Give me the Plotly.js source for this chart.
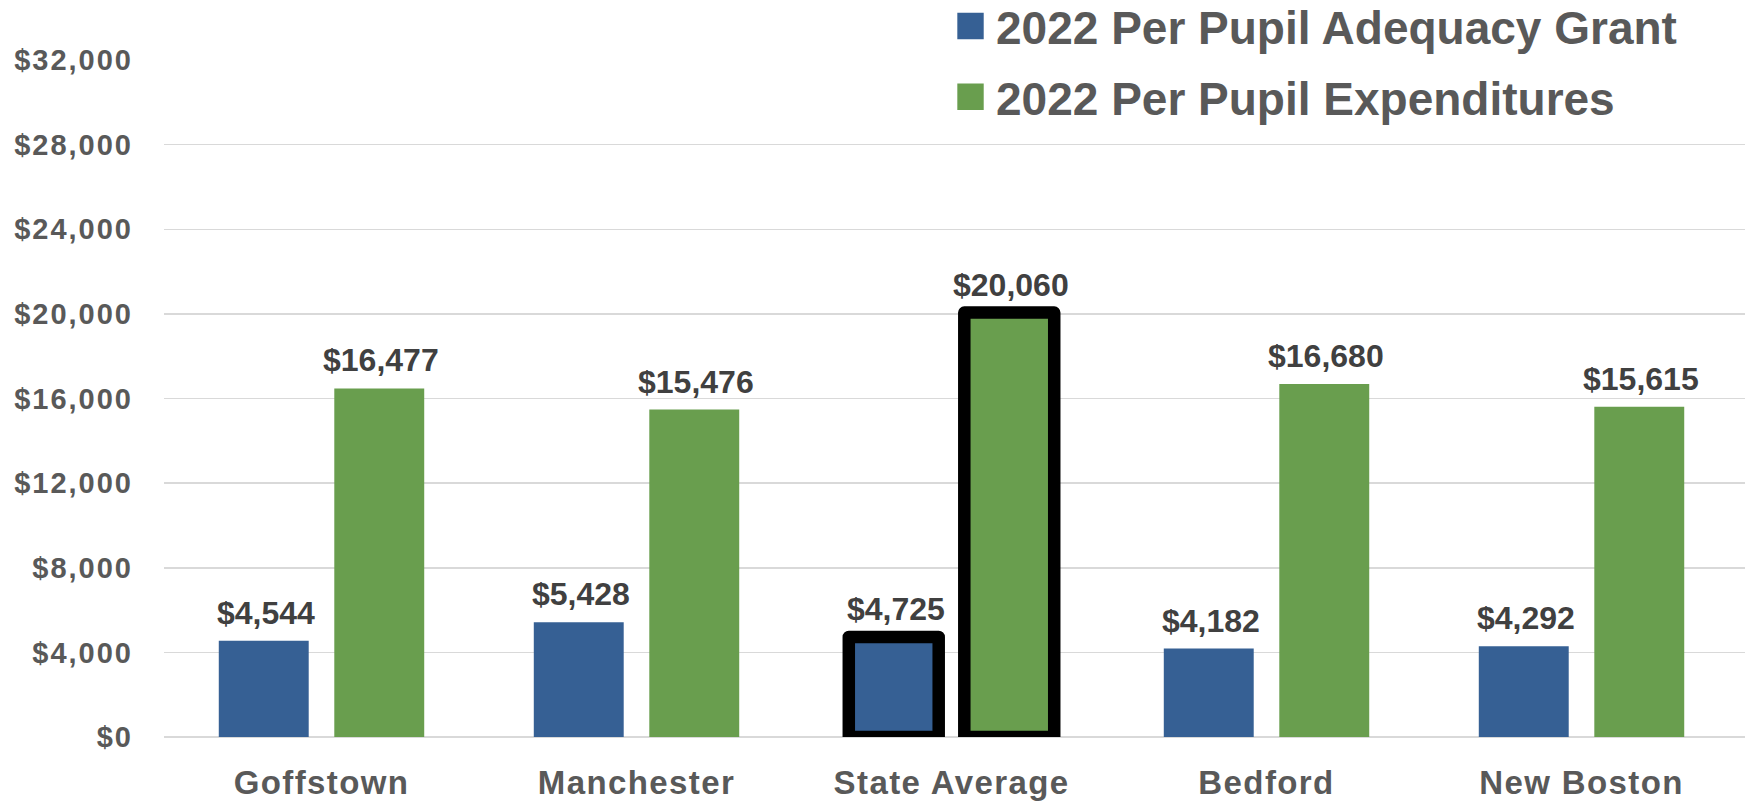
<!DOCTYPE html>
<html>
<head>
<meta charset="utf-8">
<script src="https://cdn.plot.ly/plotly-3.0.1.min.js"></script>
<style>
  html, body { margin: 0; padding: 0; background: #ffffff; }
  #chart { width: 1745px; height: 801px; }
  .xtick text { letter-spacing: 1.4px; }
  .ytick text { letter-spacing: 2px; }
  .trace.bars .point path { stroke-linejoin: round; }
</style>
</head>
<body>
<div id="chart"></div>
<script>
// ---- data ----
const categories = ['Goffstown', 'Manchester', 'State Average', 'Bedford', 'New Boston'];
const grantValues = [4544, 5428, 4725, 4182, 4292];
const expenditureValues = [16477, 15476, 20060, 16680, 15615];
const seriesNames = ['2022 Per Pupil Adequacy Grant', '2022 Per Pupil Expenditures'];
const yTickValues = [0, 4000, 8000, 12000, 16000, 20000, 24000, 28000, 32000];
const highlightCategory = 'State Average';

// ---- styles ----
const FONT = 'Liberation Sans, Arial, sans-serif';
const seriesColors = ['#366094', '#699E4E'];
const outlineWidths = categories.map(c => (c === highlightCategory ? 12.5 : 0));

const seriesValues = [grantValues, expenditureValues];

const traces = seriesValues.map((vals, s) => ({
  type: 'bar',
  name: seriesNames[s],
  legendgroup: 'g' + s,
  x: categories,
  y: vals,
  marker: {
    color: seriesColors[s],
    line: { color: '#000000', width: outlineWidths }
  },
  textposition: 'none',
  hoverinfo: 'none',
  cliponaxis: false
}));

const fmt = v => '$' + v.toLocaleString('en-US');
const annotations = [];
seriesValues.forEach((vals, s) => {
  vals.forEach((v, i) => {
    annotations.push({
      x: categories[i], y: v, xref: 'x', yref: 'y',
      text: fmt(v), showarrow: false,
      xanchor: 'center', yanchor: 'bottom',
      xshift: (s === 0 ? -1 : 1) * 57.75 + 2,
      yshift: 8,
      font: { family: FONT, size: 32, color: '#404040', weight: 'bold' }
    });
  });
});

const layout = {
  width: 1745, height: 801,
  margin: { l: 164, r: 0, t: 60, b: 64, pad: 0, autoexpand: false },
  paper_bgcolor: '#ffffff', plot_bgcolor: '#ffffff',
  barmode: 'group',
  bargap: 0.2666,
  bargroupgap: 0.2215,
  showlegend: true,
  legend: {
    x: 0.494, y: 1.104, xanchor: 'left', yanchor: 'top',
    xref: 'paper', yref: 'paper',
    orientation: 'v',
    traceorder: 'grouped',
    tracegroupgap: 8,
    itemwidth: 41,
    bgcolor: 'rgba(0,0,0,0)',
    borderwidth: 0,
    font: { family: FONT, size: 46, color: '#595959', weight: 'bold' }
  },
  xaxis: {
    type: 'category',
    range: [-0.5, 4.519],
    showgrid: false, zeroline: false, showline: false,
    ticks: '',
    ticklabelstandoff: 23,
    tickfont: { family: FONT, size: 33, color: '#595959', weight: 'bold' },
    fixedrange: true
  },
  yaxis: {
    range: [0, 32000],
    tickvals: yTickValues,
    ticktext: yTickValues.map(fmt),
    showgrid: true, gridcolor: '#D9D9D9', gridwidth: 1.5,
    zeroline: true, zerolinecolor: '#D9D9D9', zerolinewidth: 1.5,
    showline: false, ticks: '',
    ticklabelstandoff: 30,
    tickfont: { family: FONT, size: 29, color: '#595959', weight: 'bold' },
    fixedrange: true
  },
  annotations: annotations
};

Plotly.newPlot('chart', traces, layout, { staticPlot: true, displayModeBar: false }).then(gd => {
  gd.querySelectorAll('.legendpoints path').forEach(p => {
    const t = p.getAttribute('transform') || '';
    p.setAttribute('transform', t + ' scale(2.2)');
    p.style.strokeWidth = '0';
  });
});
</script>
</body>
</html>
